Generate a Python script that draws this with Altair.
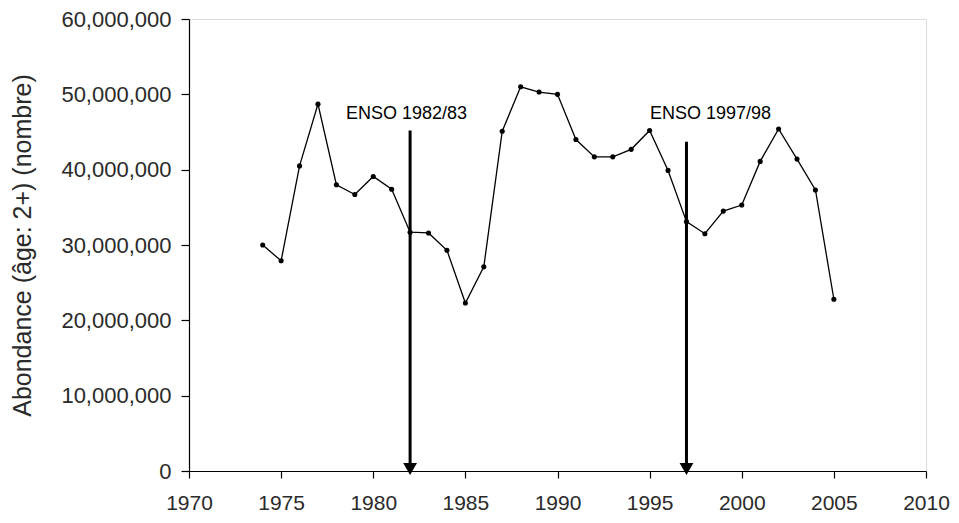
import altair as alt
import pandas as pd

years = list(range(1974, 2006))
abundance = [30.0, 27.9, 40.5, 48.7, 38.0, 36.7, 39.1, 37.4, 31.7, 31.6,
             29.3, 22.3, 27.1, 45.1, 51.0, 50.3, 50.0, 44.0, 41.7, 41.7,
             42.7, 45.2, 39.9, 33.1, 31.5, 34.5, 35.3, 41.1, 45.4, 41.4,
             37.3, 22.8]
abundance = [v * 1_000_000 for v in abundance]

enso_years = [1982, 1997]
enso_top = [45_200_000, 43_700_000]
enso_labels = ["ENSO 1982/83", "ENSO 1997/98"]
enso_label_x = [1981.8, 1998.3]
enso_label_y = [47_400_000, 47_400_000]

df = pd.DataFrame({"year": years, "value": abundance})
arrows = pd.DataFrame({"year": enso_years, "top": enso_top, "base": [0, 0]})
labels = pd.DataFrame({"x": enso_label_x, "y": enso_label_y, "label": enso_labels})

FONT = "Liberation Sans"
TXT = "#2a2a2a"

xscale = alt.Scale(domain=[1970, 2010], nice=False, zero=False)
yscale = alt.Scale(domain=[0, 60_000_000], nice=False)

xaxis = alt.Axis(values=list(range(1970, 2011, 5)), format="d", grid=False,
                 tickSize=7, tickColor="black", domainColor="black",
                 tickWidth=1.2, domainWidth=1.2, labelFlush=False,
                 labelFontSize=21, labelColor=TXT, labelFont=FONT,
                 labelPadding=14, title=None)
yaxis = alt.Axis(values=list(range(0, 60_000_001, 10_000_000)), format=",d",
                 grid=False, tickSize=8, tickColor="black", domainColor="black",
                 tickWidth=1.2, domainWidth=1.2, labelFlush=False,
                 labelFontSize=22, labelColor=TXT, labelFont=FONT,
                 labelPadding=10,
                 title="Abondance (âge: 2+) (nombre)", titleFontSize=25,
                 titleFont=FONT, titleFontWeight="normal", titleColor=TXT,
                 titlePadding=25)

line = alt.Chart(df).mark_line(color="black", strokeWidth=1.3).encode(
    x=alt.X("year:Q", scale=xscale, axis=xaxis),
    y=alt.Y("value:Q", scale=yscale, axis=yaxis),
)
pts = alt.Chart(df).mark_point(filled=True, color="black", size=26, opacity=1).encode(
    x=alt.X("year:Q", scale=xscale),
    y=alt.Y("value:Q", scale=yscale),
)
rules = alt.Chart(arrows).mark_rule(color="black", strokeWidth=3).encode(
    x=alt.X("year:Q", scale=xscale),
    y=alt.Y("top:Q", scale=yscale),
    y2="base:Q",
)
heads = alt.Chart(arrows).mark_point(shape="triangle-down", filled=True,
                                     color="black", size=190, opacity=1,
                                     yOffset=-2).encode(
    x=alt.X("year:Q", scale=xscale),
    y=alt.Y("base:Q", scale=yscale),
)
text = alt.Chart(labels).mark_text(font=FONT, fontSize=18, color="black").encode(
    x=alt.X("x:Q", scale=xscale),
    y=alt.Y("y:Q", scale=yscale),
    text="label:N",
)

chart = (line + pts + rules + heads + text).properties(
    width=737, height=452,
    padding={"left": 181, "top": 11, "right": 24, "bottom": 43},
    autosize="none",
).configure_view(stroke=None).configure(background="white")

chart.save("out.html", embed_options={"renderer": "svg", "actions": False})
